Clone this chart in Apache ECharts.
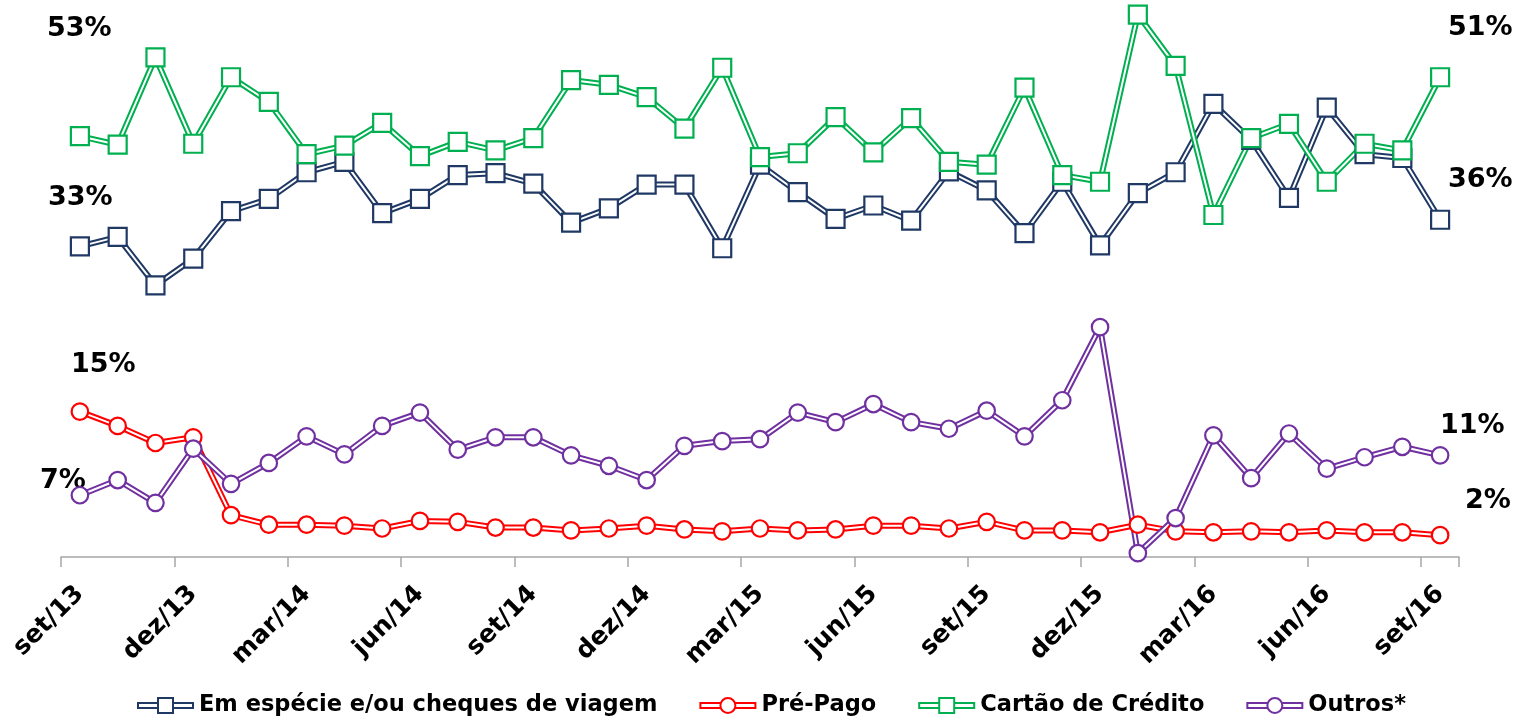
<!DOCTYPE html>
<html>
<head>
<meta charset="utf-8">
<script src="https://cdn.jsdelivr.net/npm/echarts@6/dist/echarts.min.js"></script>
<style>
html,body{margin:0;padding:0;background:#fff;}
#chart{width:1515px;height:717px;}
</style>
</head>
<body>
<div id="chart"></div>
<script>
// ---- data ----
const categories = [
  'set/13','out/13','nov/13','dez/13','jan/14','fev/14','mar/14','abr/14','mai/14','jun/14','jul/14','ago/14',
  'set/14','out/14','nov/14','dez/14','jan/15','fev/15','mar/15','abr/15','mai/15','jun/15','jul/15','ago/15',
  'set/15','out/15','nov/15','dez/15','jan/16','fev/16','mar/16','abr/16','mai/16','jun/16','jul/16','ago/16','set/16'
];
const seriesNames = ['Em espécie e/ou cheques de viagem', 'Pré-Pago', 'Cartão de Crédito', 'Outros*'];
const especie = [32.7,33.7,28.6,31.4,36.4,37.7,40.5,41.6,36.2,37.7,40.2,40.4,39.3,35.2,36.7,39.2,39.2,32.5,41.3,38.4,35.6,37.0,35.4,40.6,38.6,34.1,39.5,32.8,38.3,40.5,47.7,43.9,37.8,47.3,42.4,42.0,35.5];
const prePago = [15.3,13.8,12.0,12.6,4.4,3.4,3.4,3.3,3.0,3.8,3.7,3.1,3.1,2.8,3.0,3.3,2.9,2.7,3.0,2.8,2.9,3.3,3.3,3.0,3.7,2.8,2.8,2.6,3.4,2.7,2.6,2.7,2.6,2.8,2.6,2.6,2.3];
const cartao = [44.3,43.4,52.6,43.5,50.5,47.9,42.4,43.3,45.7,42.2,43.7,42.8,44.1,50.2,49.7,48.4,45.1,51.5,42.1,42.5,46.3,42.6,46.2,41.6,41.3,49.4,40.2,39.5,57.1,51.7,36.0,44.1,45.6,39.5,43.5,42.8,50.5];
const outros = [6.5,8.1,5.7,11.4,7.7,9.9,12.7,10.8,13.8,15.2,11.3,12.6,12.6,10.7,9.6,8.1,11.7,12.2,12.4,15.2,14.2,16.1,14.2,13.5,15.4,12.7,16.5,24.2,0.4,4.1,12.8,8.3,13.0,9.3,10.5,11.6,10.7];
const pctLabels = ['53%','33%','51%','36%','15%','7%','11%','2%'];

// ---- layout / style ----
const pctLabelPos = [[47,29],[48,198],[1448,28],[1448,180],[71,365],[40,481],[1440,426],[1465,501]];
const colors = ['#1F3864', '#FF0000', '#00B050', '#7030A0'];
const symbols = ['rect', 'circle', 'rect', 'circle'];
const symbolSizes = [18, 16.5, 18, 16.5];
const seriesData = [especie, prePago, cartao, outros];
const FONT = '"DejaVu Sans", "Liberation Sans", Arial, sans-serif';

function legendIconPath(isRect) {
  if (isRect) {
    return 'path://M0 5 H20 V12 H0 Z M2 7 V10 H20 V7 Z ' +
           'M20 0 H37 V17 H20 Z M22 2 V15 H35 V2 Z ' +
           'M37 5 H57 V12 H37 Z M37 7 V10 H55 V7 Z';
  }
  return 'path://M0 5 H21 V12 H0 Z M2 7 V10 H21 V7 Z ' +
         'M28.5 0 A8.5 8.5 0 1 1 28.5 17 A8.5 8.5 0 1 1 28.5 0 Z M28.5 2 A6.5 6.5 0 1 0 28.5 15 A6.5 6.5 0 1 0 28.5 2 Z ' +
         'M36 5 H57 V12 H36 Z M36 7 V10 H55 V7 Z';
}

const series = [];
seriesData.forEach((d, i) => {
  const c = colors[i];
  series.push({
    name: seriesNames[i], type: 'line', data: d, symbol: 'none',
    lineStyle: { color: c, width: 6 }, itemStyle: { color: c },
    silent: true, animation: false
  });
  series.push({
    name: seriesNames[i], type: 'line', data: d, symbol: 'none',
    lineStyle: { color: '#ffffff', width: 2 }, itemStyle: { color: c },
    silent: true, animation: false
  });
  series.push({
    name: seriesNames[i], type: 'line', data: d,
    symbol: symbols[i], symbolSize: symbolSizes[i], showAllSymbol: true,
    lineStyle: { opacity: 0, width: 0 },
    itemStyle: { color: '#ffffff', borderColor: c, borderWidth: 2.2, opacity: 1 },
    silent: true, animation: false
  });
});

const graphics = pctLabels.map((t, i) => ({
  type: 'text', x: pctLabelPos[i][0], y: pctLabelPos[i][1], silent: true,
  style: { text: t, font: 'bold 27px ' + FONT, fill: '#000', align: 'left', verticalAlign: 'middle' }
}));

const chart = echarts.init(document.getElementById('chart'), null, { renderer: 'canvas' });
chart.setOption({
  animation: false,
  backgroundColor: '#ffffff',
  grid: { left: 61, right: 56, top: 6, bottom: 160, containLabel: false },
  xAxis: {
    type: 'category', data: categories, boundaryGap: true,
    axisLine: { show: true, lineStyle: { color: '#A6A6A6', width: 1.5 } },
    axisTick: { show: true, interval: 2, length: 10, lineStyle: { color: '#A6A6A6', width: 1.5 } },
    axisLabel: { interval: 2, rotate: 45, margin: 33, color: '#000', fontWeight: 'bold', fontSize: 25, fontFamily: FONT },
    splitLine: { show: false }
  },
  yAxis: { type: 'value', min: 0, max: 58, show: false, splitLine: { show: false } },
  legend: {
    left: 132, top: 689, itemWidth: 57, itemHeight: 17, itemGap: 42,
    selectedMode: false,
    textStyle: { color: '#000', fontWeight: 'bold', fontSize: 22.5, fontFamily: FONT },
    data: seriesNames.map((n, i) => ({
      name: n, icon: legendIconPath(symbols[i] === 'rect'),
      itemStyle: { color: colors[i], borderWidth: 0 }
    }))
  },
  graphic: graphics,
  series: series
});
</script>
</body>
</html>
